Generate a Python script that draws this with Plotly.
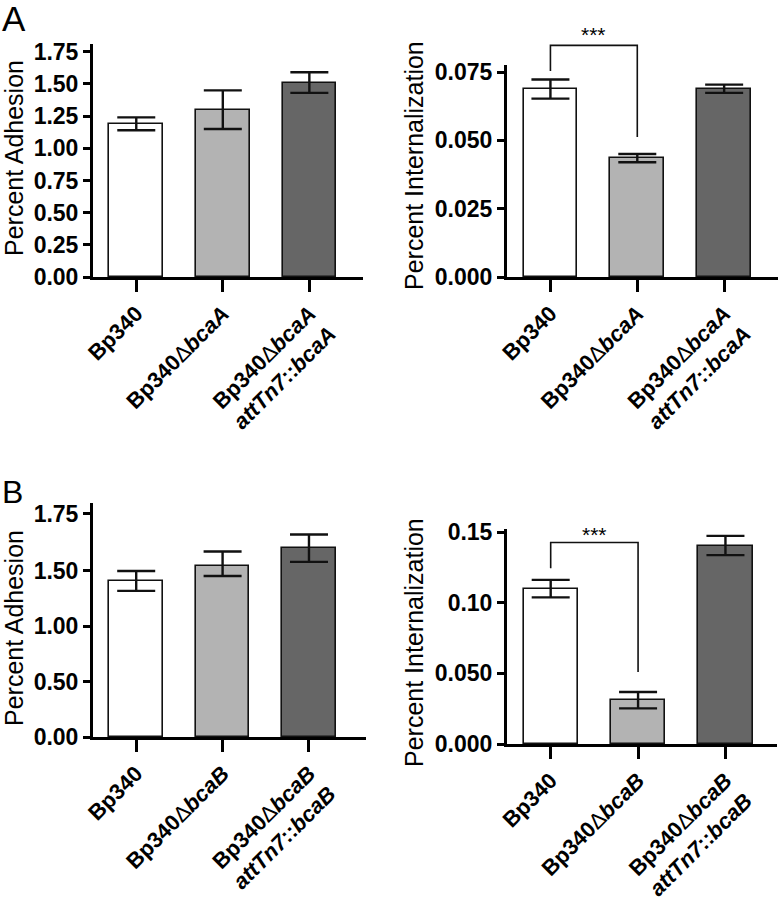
import plotly.graph_objects as go

# ---------------- data ----------------
cats_A = ["Bp340", "Bp340ΔbcaA", "Bp340ΔbcaA attTn7::bcaA"]
cats_B = ["Bp340", "Bp340ΔbcaB", "Bp340ΔbcaB attTn7::bcaB"]

adh_A_mean = [1.19, 1.30, 1.51]
adh_A_sem = [0.05, 0.15, 0.08]
int_A_mean = [0.0688, 0.0435, 0.0689]
int_A_sem = [0.0035, 0.0015, 0.0015]

adh_B_mean = [1.41, 1.52, 1.60]
adh_B_sem = [0.09, 0.065, 0.06]
int_B_mean = [0.110, 0.031, 0.1405]
int_B_sem = [0.0062, 0.0058, 0.0068]

ticks_adh_A = [0, 0.25, 0.5, 0.75, 1.0, 1.25, 1.5, 1.75]
ticktext_adh_A = ["0.00", "0.25", "0.50", "0.75", "1.00", "1.25", "1.50", "1.75"]
ticks_int_A = [0, 0.025, 0.05, 0.075]
ticktext_int_A = ["0.000", "0.025", "0.050", "0.075"]
ticks_adh_B = [0, 0.5, 1.0, 1.5, 1.75]
ticktext_adh_B = ["0.00", "0.50", "1.00", "1.50", "1.75"]
ticks_int_B = [0, 0.05, 0.10, 0.15]
ticktext_int_B = ["0.000", "0.050", "0.10", "0.15"]

# significance brackets: (left bar, right bar, top, left-leg end, right-leg end, star y)
sig_A = (0, 1, 0.0848, 0.0754, 0.0512, 0.0886)
sig_B = (0, 1, 0.1426, 0.1245, 0.0509, 0.1482)

bar_colors = ["#ffffff", "#b3b3b3", "#666666"]

# ---------------- helpers ----------------
W, H = 783, 903
FONT = "Liberation Sans, Arial, Helvetica, sans-serif"

# segmented axis for panel B adhesion (upper segment 1.50-1.75 expanded)
SEG_BREAK, SEG_K = 1.5, 2.06


def seg(v):
    return v if v <= SEG_BREAK else SEG_BREAK + (v - SEG_BREAK) * SEG_K


def px_x(a, b):
    return [a / W, b / W]


def px_y(top, bottom):
    return [1 - bottom / H, 1 - top / H]


def label(name, gene):
    d = '<span style="font-weight:normal">Δ</span>'
    if "attTn7" in name:
        return f"Bp340{d}<i>{gene}</i><br><i>attTn7</i>::<i>{gene}</i>"
    if "Δ" in name:
        return f"Bp340{d}<i>{gene}</i>"
    return "Bp340"


labels_A = [label(c, "bcaA") for c in cats_A]
labels_B = [label(c, "bcaB") for c in cats_B]

fig = go.Figure()

panels = [
    ("x", "y", adh_A_mean, adh_A_sem, None),
    ("x2", "y2", int_A_mean, int_A_sem, None),
    ("x3", "y3", adh_B_mean, adh_B_sem, seg),
    ("x4", "y4", int_B_mean, int_B_sem, None),
]

for xa, ya, means, sems, tf in panels:
    f = tf if tf else (lambda v: v)
    yv = [f(m) for m in means]
    ep = [f(m + s) - f(m) for m, s in zip(means, sems)]
    em = [f(m) - f(m - s) for m, s in zip(means, sems)]
    fig.add_trace(go.Bar(
        x=[0, 1, 2], y=yv, xaxis=xa, yaxis=ya, width=0.62,
        marker=dict(color=bar_colors, line=dict(color="#111111", width=1.6)),
        error_y=dict(type="data", array=ep, arrayminus=em, symmetric=False,
                     color="#111111", thickness=2.4, width=19),
        showlegend=False, hoverinfo="skip",
    ))

common_x = dict(showline=True, linewidth=3, linecolor="black", ticks="outside",
                ticklen=12, tickwidth=3, tickcolor="black", tickangle=-45,
                tickvals=[0, 1, 2], showgrid=False, zeroline=False, automargin=False,
                tickfont=dict(family=FONT, size=22, color="black", weight="bold"))
common_y = dict(showline=True, linewidth=3, linecolor="black", ticks="outside",
                ticklen=7, tickwidth=3, tickcolor="black", showgrid=False,
                zeroline=False, automargin=False,
                tickfont=dict(family=FONT, size=23, color="black", weight="bold"))

Y2TOP, Y4TOP = 0.0776, 0.1522

fig.update_layout(
    width=W, height=H, margin=dict(l=0, r=0, t=0, b=0, autoexpand=False),
    paper_bgcolor="white", plot_bgcolor="white", bargap=0,
    xaxis=dict(common_x, domain=px_x(93, 363), range=[-0.5, 2.62],
               ticktext=labels_A, anchor="y"),
    yaxis=dict(common_y, domain=px_y(44, 277), range=[0, 1.81],
               tickvals=ticks_adh_A, ticktext=ticktext_adh_A, anchor="x"),
    xaxis2=dict(common_x, domain=px_x(507, 778), range=[-0.5, 2.62],
                ticktext=labels_A, anchor="y2"),
    yaxis2=dict(common_y, domain=px_y(65, 277), range=[0, Y2TOP],
                tickvals=ticks_int_A, ticktext=ticktext_int_A, anchor="x2"),
    xaxis3=dict(common_x, domain=px_x(93, 366), range=[-0.5, 2.66],
                ticktext=labels_B, anchor="y3"),
    yaxis3=dict(common_y, domain=px_y(503, 737), range=[0, seg(1.798)],
                tickvals=[seg(v) for v in ticks_adh_B], ticktext=ticktext_adh_B,
                anchor="x3"),
    xaxis4=dict(common_x, domain=px_x(507, 777), range=[-0.5, 2.59],
                ticktext=labels_B, anchor="y4"),
    yaxis4=dict(common_y, domain=px_y(529, 744), range=[0, Y4TOP],
                tickvals=ticks_int_B, ticktext=ticktext_int_B, anchor="x4"),
)

# significance brackets (y in domain fractions so they may exceed the axis top)
shapes = []
annotations = []
for (xa, ya, ytop), sig in [(("x2", "y2", Y2TOP), sig_A), (("x4", "y4", Y4TOP), sig_B)]:
    x0, x1, top, l_end, r_end, star_y = sig
    pts = [(x0, l_end), (x0, top), (x1, top), (x1, r_end)]
    path = "M " + " L ".join(f"{px},{py / ytop:.5f}" for px, py in pts)
    shapes.append(dict(type="path", path=path, xref=xa, yref=f"{ya} domain",
                       line=dict(color="#111111", width=1.6)))
    annotations.append(dict(text="***", x=(x0 + x1) / 2, y=star_y / ytop, xref=xa,
                            yref=f"{ya} domain", showarrow=False,
                            font=dict(family=FONT, size=21, color="black"),
                            yanchor="middle"))

# y-axis titles
for txt, xc, yc in [("Percent Adhesion", 14, 158), ("Percent Internalization", 414, 166),
                    ("Percent Adhesion", 14, 628), ("Percent Internalization", 414, 643)]:
    annotations.append(dict(text=txt, x=xc / W, y=1 - yc / H, xref="paper", yref="paper",
                            textangle=-90, showarrow=False, xanchor="center", yanchor="middle",
                            font=dict(family=FONT, size=25, color="black")))

# panel letters
annotations.append(dict(text="A", x=0, y=1 - 18 / H, xref="paper", yref="paper",
                        xanchor="left", yanchor="middle", showarrow=False,
                        font=dict(family=FONT, size=35, color="black")))
annotations.append(dict(text="B", x=0, y=1 - 492 / H, xref="paper", yref="paper",
                        xanchor="left", yanchor="middle", showarrow=False,
                        font=dict(family=FONT, size=32, color="black")))

fig.update_layout(shapes=shapes, annotations=annotations)
fig.write_html("out.html", config={"displayModeBar": False},
               post_script="document.body.style.margin='0';"
                           "document.body.style.overflow='hidden';")
